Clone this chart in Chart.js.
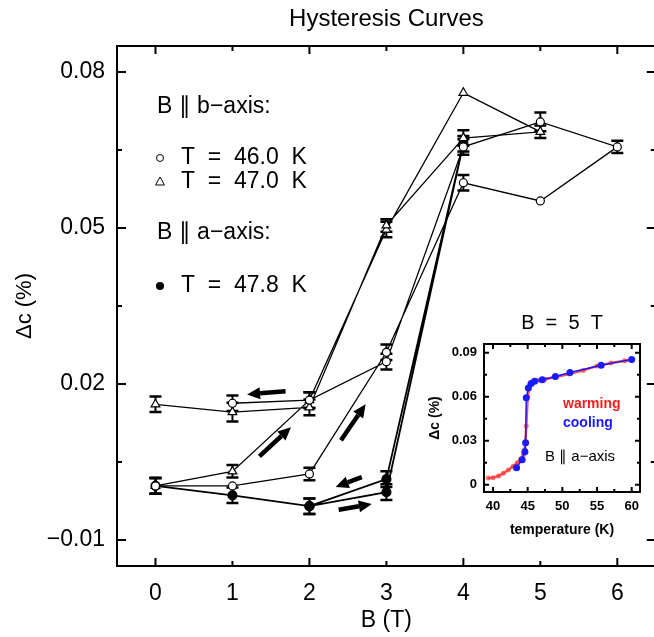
<!DOCTYPE html>
<html>
<head>
<meta charset="utf-8">
<script src="https://cdn.jsdelivr.net/npm/chart.js@4.4.1/dist/chart.umd.min.js"></script>
<style>
  html, body { margin: 0; padding: 0; background: #fff; overflow: hidden; }
  #wrap { position: relative; width: 654px; height: 637px; overflow: hidden; }
  #main { position: absolute; left: 0; top: 0; }
  #inset { position: absolute; left: 420px; top: 305px; }
</style>
</head>
<body>
<div id="wrap">
  <canvas id="main" width="662" height="637"></canvas>
  <canvas id="inset" width="234" height="240"></canvas>
</div>
<script>
// ---- main panel: hysteresis loops, B (T) vs delta c (%)
const fieldTicks = [0, 1, 2, 3, 4, 5, 6];
const dcTicks = [-0.01, 0.005, 0.02, 0.035, 0.05, 0.065, 0.08];
const dcLabelValues = [-0.01, 0.02, 0.05, 0.08];
const dcLabelText = ["\u22120.01", "0.02", "0.05", "0.08"];

// B || b-axis, T = 46.0 K (open circles), field up then down
const b46 = [0, 1, 2, 3, 4, 5, 6, 5, 4, 3, 2, 1];
const dc46 = [0.0004, 0.0004, 0.0027, 0.0261, 0.0587, 0.0552, 0.0656, 0.0704, 0.0656, 0.0243, 0.0169, 0.0163];
const err46 = [0.0015, 0, 0.0012, 0.0015, 0.0015, 0, 0.0012, 0.0018, 0.0015, 0.0015, 0.0015, 0.0015];

// B || b-axis, T = 47.0 K (open triangles)
const b47 = [0, 1, 2, 3, 4, 5, 4, 3, 2, 1, 0];
const dc47 = [0.0004, 0.0032, 0.0169, 0.0497, 0.0760, 0.0685, 0.0673, 0.0505, 0.0155, 0.0146, 0.0161];
const err47 = [0.0015, 0.0012, 0.0015, 0.0015, 0, 0.0012, 0.0015, 0.0012, 0.0015, 0.0018, 0.0015];

// B || a-axis, T = 47.8 K (filled circles)
const b478 = [0, 1, 2, 3, 4, 3, 2];
const dc478 = [0.0004, -0.0014, -0.0035, -0.0008, 0.0662, 0.0017, -0.0035];
const err478 = [0.0015, 0.0015, 0.0015, 0.0015, 0.0015, 0.0015, 0.0015];

// sweep direction arrows (data coords)
const arrowStart = [[1.69, 0.0186], [1.35, 0.0061], [2.41, 0.0092], [2.68, 0.0021], [2.38, -0.0042]];
const arrowEnd   = [[1.19, 0.0180], [1.76, 0.0117], [2.73, 0.0161], [2.34, 0.0002], [2.81, -0.0031]];

// ---- inset: B = 5 T, temperature sweep
const tempTicks = [40, 42.5, 45, 47.5, 50, 52.5, 55, 57.5, 60];
const tempLabelValues = [40, 45, 50, 55, 60];
const insetDcTicks = [0, 0.015, 0.03, 0.045, 0.06, 0.075, 0.09];
const insetDcLabelValues = [0, 0.03, 0.06, 0.09];
const insetDcLabelText = ["0", "0.03", "0.06", "0.09"];

const warmT  = [39.3, 40.0, 40.8, 41.5, 42.2, 42.9, 43.5, 44.0, 44.4, 44.6, 44.8, 45.0, 45.3, 45.8, 46.5, 47.5, 49, 51, 53, 55, 57, 59, 60];
const warmDc = [0.0045, 0.0048, 0.006, 0.0078, 0.0100, 0.0125, 0.0150, 0.0175, 0.0205, 0.024, 0.040, 0.060, 0.068, 0.0705, 0.0712, 0.072, 0.0735, 0.0755, 0.078, 0.081, 0.083, 0.0845, 0.085];
const coolT  = [60, 55.6, 51.1, 49, 47.1, 46.0, 45.5, 45.1, 44.8, 44.7, 44.6, 44.2, 43.4];
const coolDc = [0.0855, 0.0815, 0.0765, 0.0738, 0.0716, 0.0705, 0.069, 0.066, 0.0593, 0.0286, 0.0225, 0.017, 0.0116];

const FONT = "Liberation Sans";
const pts = (xs, ys) => xs.map((v, i) => ({ x: v, y: ys[i] }));
const near = (a, b) => Math.abs(a - b) < 1e-9;

// frame with inward ticks on all four sides
function framePlugin(lw, xLen, yLen) {
  return {
    id: "frame",
    afterDraw(chart) {
      const { ctx, chartArea: a, scales: { x, y } } = chart;
      ctx.save();
      ctx.strokeStyle = "#000";
      ctx.lineWidth = lw;
      ctx.strokeRect(a.left, a.top, a.right - a.left, a.bottom - a.top);
      ctx.beginPath();
      x.ticks.forEach(t => {
        const px = x.getPixelForValue(t.value), len = xLen(t.value);
        ctx.moveTo(px, a.bottom); ctx.lineTo(px, a.bottom - len);
        ctx.moveTo(px, a.top); ctx.lineTo(px, a.top + len);
      });
      y.ticks.forEach(t => {
        const py = y.getPixelForValue(t.value), len = yLen(t.value);
        ctx.moveTo(a.left, py); ctx.lineTo(a.left + len, py);
        ctx.moveTo(a.right, py); ctx.lineTo(a.right - len, py);
      });
      ctx.stroke();
      ctx.restore();
    }
  };
}

const errorBars = {
  id: "errorBars",
  beforeDatasetsDraw(chart) {
    const { ctx, scales: { x, y } } = chart;
    ctx.save();
    ctx.strokeStyle = "#000";
    chart.data.datasets.forEach(ds => {
      if (!ds.errors) return;
      ds.data.forEach((p, i) => {
        const e = ds.errors[i];
        if (!e) return;
        const px = x.getPixelForValue(p.x);
        const top = y.getPixelForValue(p.y + e), bot = y.getPixelForValue(p.y - e);
        ctx.lineWidth = 2;
        ctx.beginPath(); ctx.moveTo(px, top); ctx.lineTo(px, bot); ctx.stroke();
        ctx.lineWidth = 2.5;
        ctx.beginPath();
        ctx.moveTo(px - 6, top); ctx.lineTo(px + 6, top);
        ctx.moveTo(px - 6, bot); ctx.lineTo(px + 6, bot);
        ctx.stroke();
      });
    });
    ctx.restore();
  }
};

const arrows = {
  id: "arrows",
  afterDatasetsDraw(chart) {
    const { ctx, scales: { x, y } } = chart;
    ctx.save();
    ctx.fillStyle = "#000";
    ctx.strokeStyle = "#000";
    arrowStart.forEach((s, i) => {
      const x1 = x.getPixelForValue(s[0]), y1 = y.getPixelForValue(s[1]);
      const x2 = x.getPixelForValue(arrowEnd[i][0]), y2 = y.getPixelForValue(arrowEnd[i][1]);
      const ang = Math.atan2(y2 - y1, x2 - x1), head = 13, hw = 6;
      const bx = x2 - head * Math.cos(ang), by = y2 - head * Math.sin(ang);
      ctx.lineWidth = 4.5;
      ctx.beginPath(); ctx.moveTo(x1, y1); ctx.lineTo(bx, by); ctx.stroke();
      ctx.beginPath();
      ctx.moveTo(x2, y2);
      ctx.lineTo(bx + hw * Math.sin(ang), by - hw * Math.cos(ang));
      ctx.lineTo(bx - hw * Math.sin(ang), by + hw * Math.cos(ang));
      ctx.closePath();
      ctx.fill();
    });
    ctx.restore();
  }
};

// title and the in-plot key
const mainText = {
  id: "mainText",
  afterDraw(chart) {
    const { ctx, chartArea: a } = chart;
    ctx.save();
    ctx.fillStyle = "#000";
    ctx.textBaseline = "middle";
    ctx.textAlign = "center";
    ctx.font = `24px ${FONT}`;
    ctx.fillText("Hysteresis Curves", (a.left + a.right) / 2, 19);
    ctx.textAlign = "left";
    ctx.font = `23px ${FONT}`;
    ctx.fillText("B \u2225 b\u2212axis:", 157, 107);
    ctx.fillText("T  =  46.0  K", 181, 158);
    ctx.fillText("T  =  47.0  K", 181, 182);
    ctx.fillText("B \u2225 a\u2212axis:", 157, 233);
    ctx.fillText("T  =  47.8  K", 181, 286);
    ctx.lineWidth = 1;
    ctx.strokeStyle = "#000";
    ctx.beginPath(); ctx.arc(160, 158, 3.5, 0, Math.PI * 2); ctx.stroke();
    ctx.beginPath(); ctx.moveTo(160, 177); ctx.lineTo(155.5, 185); ctx.lineTo(164.5, 185); ctx.closePath(); ctx.stroke();
    ctx.beginPath(); ctx.arc(160, 286, 4, 0, Math.PI * 2); ctx.fill();
    ctx.restore();
  }
};

const lineStyle = { showLine: true, borderColor: "#000", borderWidth: 1.3, pointBorderColor: "#000", pointBorderWidth: 1.2 };

// later datasets are drawn underneath earlier ones
new Chart(document.getElementById("main"), {
  type: "scatter",
  data: {
    datasets: [
      { ...lineStyle, label: "T = 46.0 K", data: pts(b46, dc46), errors: err46, pointStyle: "circle", pointRadius: 4, pointBackgroundColor: "#fff" },
      { ...lineStyle, label: "T = 47.0 K", data: pts(b47, dc47), errors: err47, pointStyle: "triangle", pointRadius: 5, pointBackgroundColor: "#fff" },
      { ...lineStyle, label: "T = 47.8 K", data: pts(b478, dc478), errors: err478, pointStyle: "circle", pointRadius: 4.5, pointBackgroundColor: "#000", borderWidth: 1.8 }
    ]
  },
  options: {
    responsive: false,
    animation: false,
    layout: { padding: { top: 46, right: 4, left: 0, bottom: 0 } },
    plugins: { legend: { display: false }, tooltip: { enabled: false } },
    scales: {
      x: {
        type: "linear", min: -0.5, max: 6.5,
        grid: { display: false, drawTicks: false }, border: { display: false },
        afterBuildTicks: s => { s.ticks = fieldTicks.map(v => ({ value: v })); },
        afterFit: s => { s.height = 71; },
        ticks: { padding: 14, color: "#000", font: { family: FONT, size: 23 }, maxRotation: 0 },
        title: { display: true, text: "B (T)", color: "#000", font: { family: FONT, size: 23 }, padding: { top: 0, bottom: 3 } }
      },
      y: {
        type: "linear", min: -0.015, max: 0.085,
        grid: { display: false, drawTicks: false }, border: { display: false },
        afterBuildTicks: s => { s.ticks = dcTicks.map(v => ({ value: v })); },
        afterFit: s => { s.width = 117; },
        ticks: {
          padding: 12, color: "#000", font: { family: FONT, size: 23 },
          callback: v => { const i = dcLabelValues.findIndex(l => near(l, v)); return i >= 0 ? dcLabelText[i] : ""; }
        },
        title: { display: true, text: "\u0394c (%)", color: "#000", font: { family: FONT, size: 22 }, padding: { top: 12, bottom: 0 } }
      }
    }
  },
  plugins: [
    errorBars, arrows, mainText,
    framePlugin(2, v => (v % 2 === 0 ? 8 : 5), v => (dcLabelValues.some(l => near(l, v)) ? 9 : 5))
  ]
});

// ---- inset
const insetText = {
  id: "insetText",
  afterDraw(chart) {
    const { ctx, chartArea: a } = chart;
    ctx.save();
    ctx.textBaseline = "middle";
    ctx.textAlign = "center";
    ctx.fillStyle = "#000";
    ctx.font = `20px ${FONT}`;
    ctx.fillText("B  =  5  T", (a.left + a.right) / 2, 18);
    ctx.textAlign = "left";
    ctx.font = `bold 14px ${FONT}`;
    ctx.fillStyle = "#f01e1e";
    ctx.fillText("warming", 143, 99);
    ctx.fillStyle = "#1a1aff";
    ctx.fillText("cooling", 143, 118);
    ctx.fillStyle = "#000";
    ctx.font = `15px ${FONT}`;
    ctx.fillText("B \u2225 a\u2212axis", 125, 152);
    ctx.restore();
  }
};

new Chart(document.getElementById("inset"), {
  type: "scatter",
  data: {
    datasets: [
      { label: "cooling", data: pts(coolT, coolDc), showLine: true, borderColor: "#1a1aff", borderWidth: 1.5, pointRadius: 3.5, pointBackgroundColor: "#1a1aff", pointBorderWidth: 0 },
      { label: "warming", data: pts(warmT, warmDc), showLine: true, borderColor: "rgba(245,40,40,0.8)", borderWidth: 2.5, pointRadius: 2.5, pointBackgroundColor: "rgba(245,60,60,0.7)", pointBorderWidth: 0 }
    ]
  },
  options: {
    responsive: false,
    animation: false,
    layout: { padding: { top: 39, right: 14, left: 0, bottom: 0 } },
    plugins: { legend: { display: false }, tooltip: { enabled: false } },
    scales: {
      x: {
        type: "linear", min: 38.7, max: 61.2,
        grid: { display: false, drawTicks: false }, border: { display: false },
        afterBuildTicks: s => { s.ticks = tempTicks.map(v => ({ value: v })); },
        afterFit: s => { s.height = 53; },
        ticks: {
          padding: 7, color: "#000", font: { family: FONT, size: 13, weight: "bold" }, maxRotation: 0, autoSkip: false,
          callback: v => (tempLabelValues.some(l => near(l, v)) ? String(v) : "")
        },
        title: { display: true, text: "temperature (K)", color: "#000", font: { family: FONT, size: 14, weight: "bold" }, padding: { top: 0, bottom: 6 } }
      },
      y: {
        type: "linear", min: -0.005, max: 0.096,
        grid: { display: false, drawTicks: false }, border: { display: false },
        afterBuildTicks: s => { s.ticks = insetDcTicks.map(v => ({ value: v })); },
        afterFit: s => { s.width = 64; },
        ticks: {
          padding: 7, color: "#000", font: { family: FONT, size: 13, weight: "bold" },
          callback: v => { const i = insetDcLabelValues.findIndex(l => near(l, v)); return i >= 0 ? insetDcLabelText[i] : ""; }
        },
        title: { display: true, text: "\u0394c (%)", color: "#000", font: { family: FONT, size: 14, weight: "bold" }, padding: { top: 7, bottom: 0 } }
      }
    }
  },
  plugins: [
    insetText,
    framePlugin(2, v => (tempLabelValues.some(l => near(l, v)) ? 5 : 3), v => (insetDcLabelValues.some(l => near(l, v)) ? 5 : 3))
  ]
});
</script>
</body>
</html>
